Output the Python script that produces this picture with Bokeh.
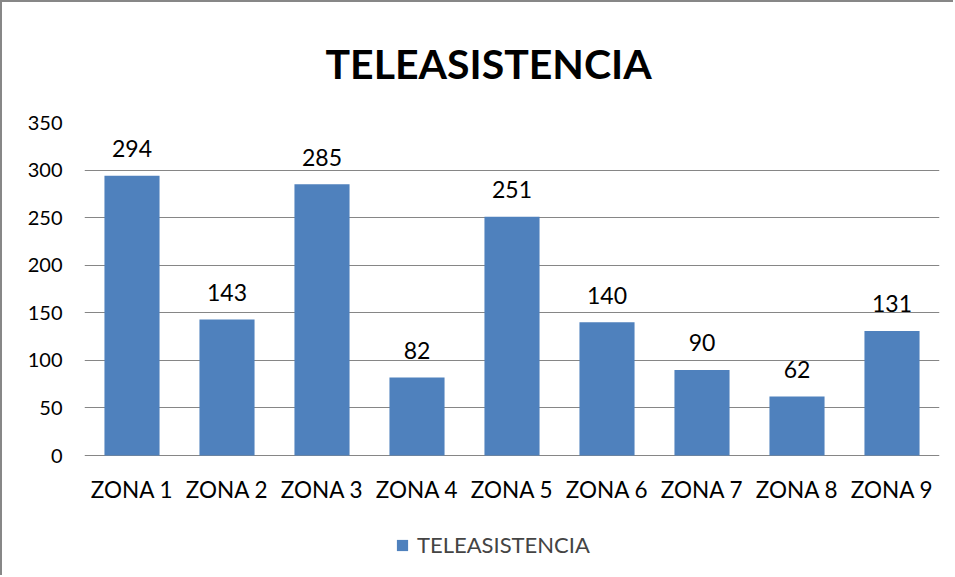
from bokeh.plotting import figure
from bokeh.models import Range1d, Legend, LegendItem, ColumnDataSource
from bokeh.embed import file_html
from bokeh.resources import INLINE
from bokeh.core.properties import value

zones = ["ZONA 1", "ZONA 2", "ZONA 3", "ZONA 4", "ZONA 5", "ZONA 6", "ZONA 7", "ZONA 8", "ZONA 9"]
counts = [294, 143, 285, 82, 251, 140, 90, 62, 131]
labels = [str(c) for c in counts]
yticks = [0, 50, 100, 150, 200, 250, 300, 350]
series_name = "TELEASISTENCIA"
title_text = "TELEASISTENCIA"

FONT = "Lato"
src = ColumnDataSource(dict(zone=zones, count=counts, label=labels))

# frame runs from the 350 line down to the bottom edge; the area under 0 holds
# the category labels and the legend
p = figure(x_range=zones, y_range=Range1d(-128.2, 350), width=953, height=575,
           output_backend="svg", toolbar_location=None, x_axis_location=None,
           min_border_left=82, min_border_right=16, min_border_top=120, min_border_bottom=0)
p.styles = {"border-left": "2px solid #878787", "border-top": "2px solid #878787"}
p.outline_line_color = None
p.background_fill_color = "white"
p.border_fill_color = "white"

p.title.text = title_text
p.title.align = "left"
p.title.offset = 241
p.title.text_font = FONT
p.title.text_font_style = "bold"
p.title.text_font_size = "41px"
p.title.text_color = "#000000"
p.title.standoff = 69

bars = p.vbar(x="zone", top="count", width=0.58, source=src, color="#4F81BD", line_color=None)
p.text(x="zone", y="count", text="label", source=src, text_align="center",
       text_baseline="middle", y_offset=-27, text_font=value(FONT),
       text_font_size="23px", text_color="#000000")
# category labels under the baseline
p.text(x="zone", y=0, text="zone", source=src, text_align="center",
       text_baseline="middle", y_offset=34, text_font=value(FONT),
       text_font_size="22.5px", text_color="#000000")

p.yaxis.ticker = yticks
p.yaxis.axis_line_color = None
p.yaxis.major_tick_line_color = None
p.yaxis.minor_tick_line_color = None
p.yaxis.major_label_text_font = FONT
p.yaxis.major_label_text_font_size = "20px"
p.yaxis.major_label_text_color = "#000000"
p.yaxis.major_label_standoff = 16

p.xgrid.grid_line_color = None
p.ygrid.ticker = yticks
p.ygrid.grid_line_color = "#868686"
p.ygrid.grid_line_width = 1

legend = Legend(items=[LegendItem(label=series_name, renderers=[bars])],
                location=(311, 19), orientation="horizontal",
                label_text_font=FONT, label_text_font_size="22px",
                glyph_width=14, glyph_height=14, label_height=26,
                padding=0, margin=0, spacing=0,
                border_line_color=None, background_fill_alpha=0, label_standoff=8)
p.add_layout(legend, "center")

open("out.html", "w").write(file_html(p, INLINE))
